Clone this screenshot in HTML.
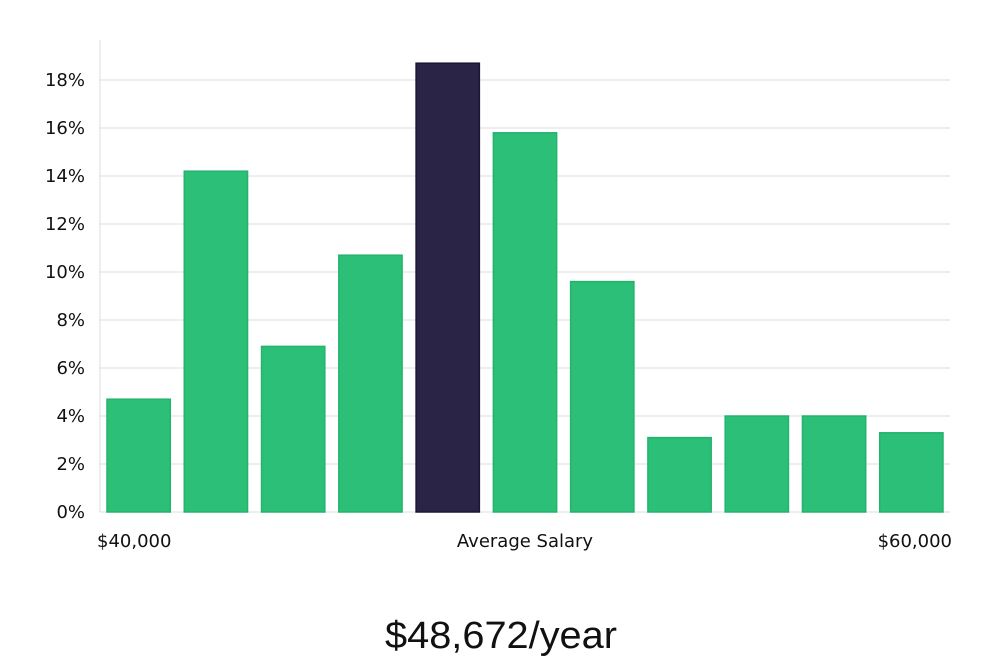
<!DOCTYPE html>
<html><head><meta charset="utf-8"><style>
body{margin:0;background:#fff;width:1000px;height:660px;overflow:hidden;font-family:"DejaVu Sans","Liberation Sans",sans-serif}
svg text{fill:#111}
</style></head><body>
<svg width="1000" height="660">
<g id="grid"></g><g id="bars"></g><g id="yticks"></g>
<line x1="100" y1="40" x2="100" y2="512" stroke="#ddd"/>
<text x="97" y="547" font-size="18">$40,000</text>
<text x="525" y="547" font-size="18" text-anchor="middle">Average Salary</text>
<text x="952" y="547" font-size="18" text-anchor="end">$60,000</text>
<text x="501" y="648" font-size="38" text-anchor="middle" textLength="232" lengthAdjust="spacingAndGlyphs" font-family="Liberation Sans, sans-serif">$48,672/year</text>
</svg>
<script>
const categories=["b1","b2","b3","b4","b5","b6","b7","b8","b9","b10","b11"];
const values=[4.7,14.2,6.9,10.7,18.7,15.8,9.6,3.1,4.0,4.0,3.3];
const highlightIndex=4;
const yTicks=[0,2,4,6,8,10,12,14,16,18];
const ns="http://www.w3.org/2000/svg";
const y=v=>512-v*24;
const pitch=850/categories.length;
const x=i=>100+i*pitch+7;
const bw=pitch-14;
const grid=document.getElementById('grid'),bars=document.getElementById('bars'),yt=document.getElementById('yticks');
yTicks.forEach(t=>{
 const l=document.createElementNS(ns,'line');
 l.setAttribute('x1',100);l.setAttribute('x2',950);l.setAttribute('y1',y(t));l.setAttribute('y2',y(t));
 l.setAttribute('stroke','#ddd');
 
 
 grid.appendChild(l);
 const tx=document.createElementNS(ns,'text');
 tx.setAttribute('x',85);tx.setAttribute('y',y(t)+6);tx.setAttribute('text-anchor','end');tx.setAttribute('font-size','18');
 tx.textContent=t+'%';
 
 
 yt.appendChild(tx);
});
values.forEach((v,i)=>{
 const r=document.createElementNS(ns,'rect');
 const hi=i===highlightIndex;
 r.setAttribute('x',x(i));r.setAttribute('y',y(v));r.setAttribute('width',bw);r.setAttribute('height',y(0)-y(v));
 r.setAttribute('fill',hi?'#2a2447':'#2bbf77');r.setAttribute('stroke',hi?'#1b1633':'#24b36c');r.setAttribute('stroke-width','1.5');
 
 
 bars.appendChild(r);
});
</script>
</body></html>
